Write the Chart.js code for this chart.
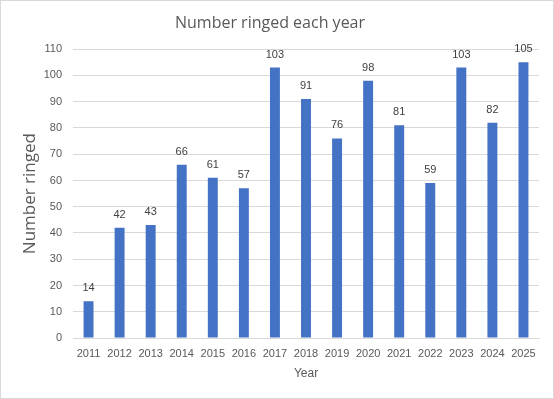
<!DOCTYPE html>
<html><head><meta charset="utf-8">
<script src="https://cdn.jsdelivr.net/npm/chart.js@4/dist/chart.umd.min.js"></script>
<style>
html,body{margin:0;padding:0;background:#fff;}
#wrap{position:absolute;left:0;top:0;width:552px;height:397px;border:1px solid #d9d9d9;}
</style></head>
<body><div id="wrap"><canvas id="c" width="552" height="397"></canvas></div>
<script>
const years = ['2011','2012','2013','2014','2015','2016','2017','2018','2019','2020','2021','2022','2023','2024','2025'];
const ringed = [14,42,43,66,61,57,103,91,76,98,81,59,103,82,105];
const yTicks = [0,10,20,30,40,50,60,70,80,90,100,110];

const labelPlugin = {
  id:'barLabels',
  afterDatasetsDraw(chart){
    const ctx = chart.ctx;
    const meta = chart.getDatasetMeta(0);
    ctx.save();
    ctx.font = '11px "Liberation Sans", Arial, sans-serif';
    ctx.fillStyle = '#404040';
    ctx.textAlign = 'center';
    ctx.textBaseline = 'middle';
    meta.data.forEach((bar,i)=>{
      ctx.fillText(String(ringed[i]), bar.x, bar.y - 13);
    });
    ctx.restore();
  }
};

new Chart(document.getElementById('c'),{
  type:'bar',
  data:{labels:years,datasets:[{data:ringed,backgroundColor:'#4472c4',barPercentage:0.32,categoryPercentage:1}]},
  options:{
    responsive:false,animation:false,
    layout:{padding:{left:0,right:14,top:8,bottom:8}},
    plugins:{
      legend:{display:false},tooltip:{enabled:false},
      title:{display:true,text:'Number ringed each year',color:'#595959',font:{family:'"Open Sans", sans-serif',size:16,weight:'normal'},padding:{top:5,bottom:16}}
    },
    scales:{
      x:{grid:{display:false,drawTicks:false},border:{color:'#d9d9d9'},
         afterFit(axis){axis.height=52;},
         ticks:{color:'#595959',font:{family:'"Liberation Sans", Arial, sans-serif',size:11},maxRotation:0,autoSkip:false,padding:9},
         title:{display:true,text:'Year',color:'#595959',font:{family:'"Liberation Sans", Arial, sans-serif',size:12},padding:{top:2,bottom:9}}},
      y:{min:0,max:110,afterBuildTicks(axis){axis.ticks=yTicks.map(v=>({value:v}));},
         afterFit(axis){axis.width=72;},
         grid:{color:'#d9d9d9',drawTicks:false},border:{display:false},
         ticks:{color:'#595959',font:{family:'"Liberation Sans", Arial, sans-serif',size:11},padding:11},
         title:{display:true,text:'Number ringed',color:'#595959',font:{family:'"Open Sans", sans-serif',size:17},padding:{top:19,bottom:4}}}
    }
  },
  plugins:[labelPlugin]
});
</script></body></html>
